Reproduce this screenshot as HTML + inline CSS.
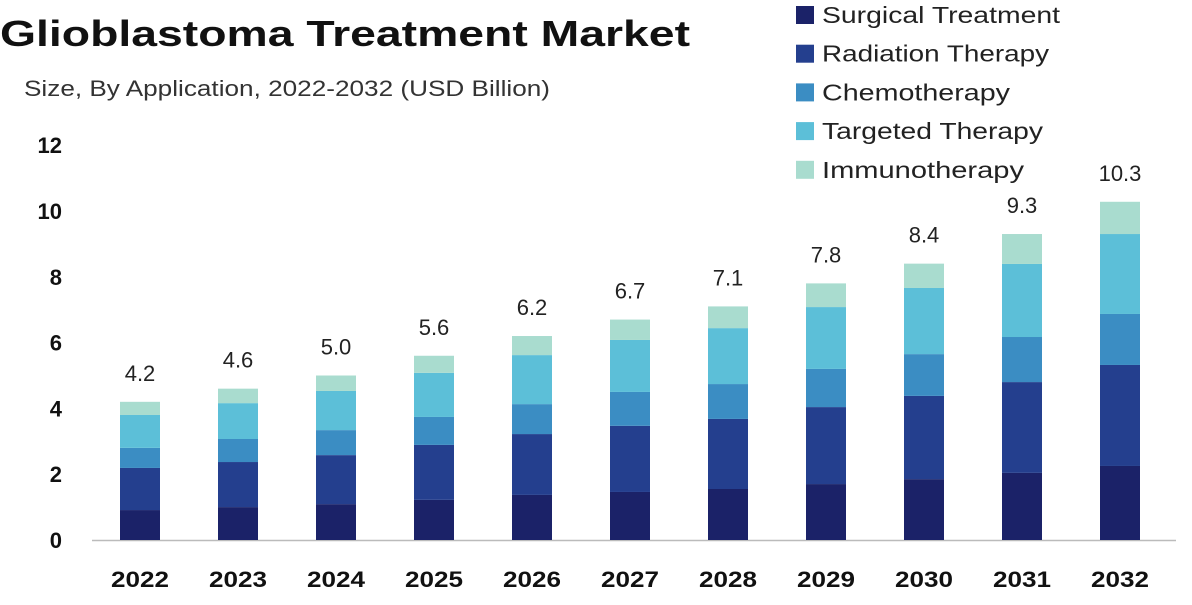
<!DOCTYPE html>
<html><head><meta charset="utf-8"><style>
body{margin:0;background:#fff;width:1192px;height:600px;overflow:hidden;font-family:"Liberation Sans",sans-serif}
</style></head><body>
<svg width="1192" height="600">
<text x="0" y="46" font-size="36" font-weight="bold" fill="#111" textLength="690" lengthAdjust="spacingAndGlyphs">Glioblastoma Treatment Market</text>
<text x="24" y="96" font-size="22" fill="#333" textLength="526" lengthAdjust="spacingAndGlyphs">Size, By Application, 2022-2032 (USD Billion)</text>
<g id="legend"></g>
<g id="axes"></g>
<g id="bars"></g>
</svg>
<script>
const years=['2022','2023','2024','2025','2026','2027','2028','2029','2030','2031','2032'];
const seriesNames=['Surgical Treatment','Radiation Therapy','Chemotherapy','Targeted Therapy','Immunotherapy'];
const legendLens=[238,227,188,221,202];
const colors=['#1b2268','#243f8e','#3b8dc3','#5cbfd8','#a9dccf'];
const surgical=[0.91,1.0,1.09,1.22,1.37,1.46,1.55,1.70,1.85,2.04,2.25];
const radiation=[1.28,1.37,1.49,1.67,1.85,2.01,2.13,2.34,2.53,2.76,3.07];
const chemo=[0.61,0.70,0.76,0.85,0.91,1.03,1.06,1.16,1.27,1.37,1.55];
const targeted=[1.0,1.09,1.19,1.34,1.49,1.58,1.70,1.88,2.01,2.22,2.43];
const immuno=[0.40,0.44,0.47,0.52,0.58,0.62,0.66,0.72,0.74,0.91,0.98];
const totals=['4.2','4.6','5.0','5.6','6.2','6.7','7.1','7.8','8.4','9.3','10.3'];
const yTicks=[0,2,4,6,8,10,12];
const NS='http://www.w3.org/2000/svg';
const y=v=>540-v*32.9;
const x=i=>140+i*98;
function mk(t,a,p){const e=document.createElementNS(NS,t);for(const k in a)e.setAttribute(k,a[k]);p.appendChild(e);return e;}
const ax=document.getElementById('axes');
yTicks.forEach(v=>{const t=mk('text',{x:62,y:y(v)+8,'text-anchor':'end','font-size':22,'font-weight':'bold',fill:'#111'},ax);t.textContent=v;

});
const base=mk('line',{x1:92,x2:1176,y1:540.5,y2:540.5,stroke:'#bbb','stroke-width':1.5},ax);


const bg=document.getElementById('bars');
const series=[surgical,radiation,chemo,targeted,immuno];
years.forEach((yr,i)=>{let acc=0;
series.forEach((s,k)=>{const r=mk('rect',{x:x(i)-20,width:40,y:y(acc+s[i]),height:s[i]*32.9,fill:colors[k]},bg);acc+=s[i];

});
const lt=mk('text',{x:x(i),y:y(acc)-21,'text-anchor':'middle','font-size':22,fill:'#222'},bg);lt.textContent=totals[i];


const xt=mk('text',{x:x(i),y:587,'text-anchor':'middle','font-size':22,'font-weight':'bold',fill:'#111',textLength:58,lengthAdjust:'spacingAndGlyphs'},ax);xt.textContent=yr;

});
const lg=document.getElementById('legend');
seriesNames.forEach((n,k)=>{const yy=15+k*38.7;
const r=mk('rect',{x:796,y:yy-9,width:18,height:18,fill:colors[k]},lg);


const t=mk('text',{x:822,y:yy+8,'font-size':23,fill:'#222',textLength:legendLens[k],lengthAdjust:'spacingAndGlyphs'},lg);t.textContent=n;

});
</script>
</body></html>
